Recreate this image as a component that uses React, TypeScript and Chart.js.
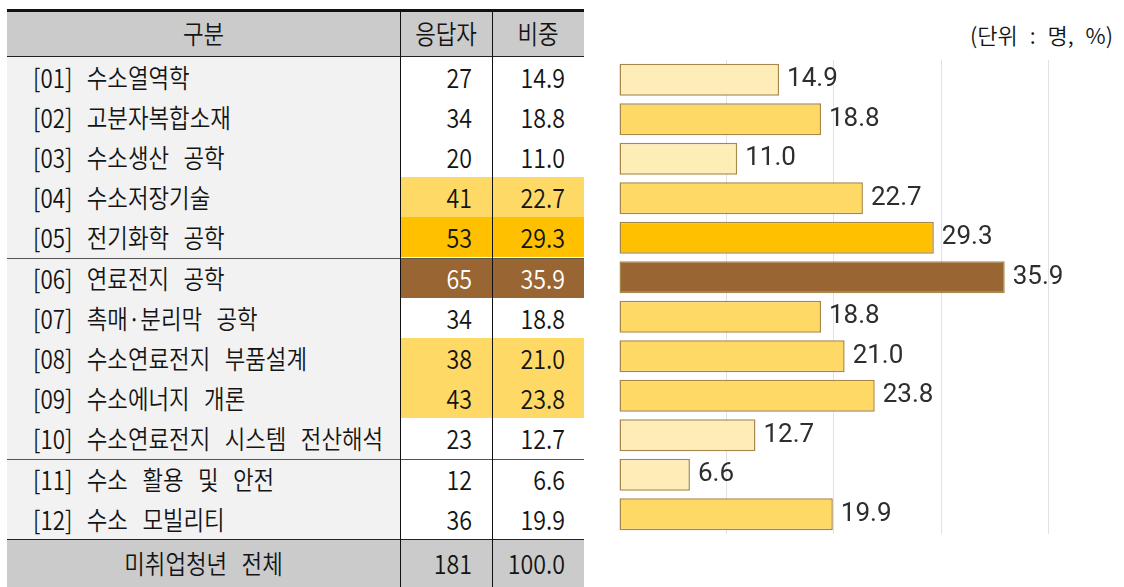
import React, { useEffect, useRef } from "react";
import { Chart, registerables } from "chart.js";

Chart.register(...registerables);

const headers = ["구분", "응답자", "비중"];
const categories = [
  "[01] 수소열역학",
  "[02] 고분자복합소재",
  "[03] 수소생산 공학",
  "[04] 수소저장기술",
  "[05] 전기화학 공학",
  "[06] 연료전지 공학",
  "[07] 촉매·분리막 공학",
  "[08] 수소연료전지 부품설계",
  "[09] 수소에너지 개론",
  "[10] 수소연료전지 시스템 전산해석",
  "[11] 수소 활용 및 안전",
  "[12] 수소 모빌리티",
];
const respondents = [27, 34, 20, 41, 53, 65, 34, 38, 43, 23, 12, 36];
const shares = [14.9, 18.8, 11.0, 22.7, 29.3, 35.9, 18.8, 21.0, 23.8, 12.7, 6.6, 19.9];
const totalLabel = "미취업청년 전체";
const totalCount = 181;
const totalShare = 100.0;
const unitLabel = "(단위 : 명, %)";
const gridTicks = [10, 20, 30, 40];
const groupBreaks = [4, 9]; // rows after which a separator line is drawn

const C_LIGHT = "#FFEDB8";
const C_MED = "#FFD966";
const C_STRONG = "#FFC000";
const C_BROWN = "#996633";

function barColor(v: number) {
  if (v >= 35) return C_BROWN;
  if (v >= 25) return C_STRONG;
  if (v >= 18) return C_MED;
  return C_LIGHT;
}

const ranked = [...shares].sort((a, b) => b - a);
function cellColor(v: number): string | null {
  const r = ranked.indexOf(v);
  if (r === 0) return C_BROWN;
  if (r === 1) return C_STRONG;
  if (r < 5) return C_MED;
  return null;
}

const FONT = '"Noto Sans CJK KR", "Noto Sans", sans-serif';
const ROW_H = 40.2;
const ROW0 = 56.5;
const X0 = 7;
const X1 = 400;
const X2 = 492;
const X3 = 584;

function Txt(props: {
  x: number;
  y: number;
  w: number;
  align: "left" | "right" | "center";
  color?: string;
  size?: number;
  spacing?: number;
  children: React.ReactNode;
}) {
  const { x, y, w, align, color = "#141414", size = 26, spacing = 6, children } = props;
  const origin = align === "left" ? "left center" : align === "right" ? "right center" : "center center";
  return (
    <div
      style={{
        position: "absolute",
        left: x,
        top: y,
        width: w,
        height: ROW_H,
        lineHeight: ROW_H + "px",
        textAlign: align,
        whiteSpace: "nowrap",
        fontFamily: FONT,
        fontWeight: 350,
        fontSize: size,
        color,
        wordSpacing: spacing,
        transform: "scaleX(0.86)",
        transformOrigin: origin,
      }}
    >
      {children}
    </div>
  );
}

const valueLabelPlugin = {
  id: "valueLabels",
  afterDatasetsDraw(chart: any) {
    const ctx = chart.ctx;
    const meta = chart.getDatasetMeta(0);
    ctx.save();
    ctx.font = '400 26px Roboto, "Noto Sans", sans-serif';
    ctx.fillStyle = "#2E2E2E";
    ctx.textBaseline = "middle";
    ctx.textAlign = "left";
    meta.data.forEach((bar: any, i: number) => {
      ctx.fillText(shares[i].toFixed(1), bar.x + 8, bar.y);
    });
    ctx.restore();
  },
};

function BarChart() {
  const ref = useRef<HTMLCanvasElement>(null);
  useEffect(() => {
    if (!ref.current) return;
    const chart = new Chart(ref.current, {
      type: "bar",
      data: {
        labels: categories,
        datasets: [
          {
            data: shares,
            backgroundColor: shares.map(barColor),
            borderColor: "#A8874C",
            borderWidth: 1.5,
            borderSkipped: false,
            barPercentage: 0.81,
            categoryPercentage: 1,
          },
        ],
      },
      options: {
        indexAxis: "y",
        responsive: false,
        animation: false,
        layout: { padding: { left: 19, right: 0, top: 20, bottom: 26 } },
        plugins: { legend: { display: false }, tooltip: { enabled: false } },
        scales: {
          x: {
            min: 0,
            max: 47,
            ticks: { display: false, stepSize: 10 },
            grid: {
              drawTicks: false,
              color: (c: any) => (gridTicks.includes(c.tick?.value) ? "#E2E2E2" : "rgba(0,0,0,0)"),
              lineWidth: 1,
            },
            border: { display: false },
          },
          y: { display: false },
        },
      },
      plugins: [valueLabelPlugin],
    } as any);
    return () => chart.destroy();
  }, []);
  return <canvas ref={ref} width={524} height={520} style={{ position: "absolute", left: 600, top: 40 }} />;
}

export default function App() {
  const rowsBottom = ROW0 + categories.length * ROW_H;
  return (
    <div
      style={{
        position: "fixed",
        left: 0,
        top: 0,
        width: 1124,
        height: 587,
        background: "#fff",
        overflow: "hidden",
      }}
    >
      {/* header */}
      <div style={{ position: "absolute", left: X0, top: 9, width: X3 - X0, height: 3, background: "#111" }} />
      <div style={{ position: "absolute", left: X0, top: 12, width: X3 - X0, height: 44, background: "#CBCBCB" }} />
      <div style={{ position: "absolute", left: X0, top: 55.5, width: X3 - X0, height: 1, background: "#222" }} />
      {/* first column background */}
      <div
        style={{ position: "absolute", left: X0, top: ROW0, width: X1 - X0, height: rowsBottom - ROW0, background: "#F2F2F2" }}
      />
      {/* highlighted cells */}
      {shares.map((v, i) => {
        const c = cellColor(v);
        if (!c) return null;
        return (
          <div
            key={"hl" + i}
            style={{ position: "absolute", left: X1, top: ROW0 + i * ROW_H, width: X3 - X1, height: ROW_H, background: c }}
          />
        );
      })}
      {/* group separators */}
      {groupBreaks.map((r) => (
        <div
          key={"sep" + r}
          style={{ position: "absolute", left: X0, top: ROW0 + (r + 1) * ROW_H, width: X3 - X0, height: 1, background: "#555" }}
        />
      ))}
      {/* total row */}
      <div style={{ position: "absolute", left: X0, top: rowsBottom + 1, width: X3 - X0, height: 60, background: "#CBCBCB" }} />
      <div style={{ position: "absolute", left: X0, top: rowsBottom + 0.5, width: X3 - X0, height: 1, background: "#222" }} />
      {/* vertical lines */}
      <div style={{ position: "absolute", left: X1, top: 12, width: 1, height: 600, background: "#111" }} />
      <div style={{ position: "absolute", left: X2, top: 12, width: 1, height: 600, background: "#111" }} />

      {/* header texts */}
      <Txt x={X0} y={13} w={X1 - X0} align="center">{headers[0]}</Txt>
      <Txt x={X1} y={13} w={X2 - X1} align="center">{headers[1]}</Txt>
      <Txt x={X2} y={13} w={X3 - X2} align="center">{headers[2]}</Txt>

      {/* body texts */}
      {categories.map((cat, i) => {
        const top = ROW0 + i * ROW_H;
        const c = cellColor(shares[i]);
        const txtColor = c === C_BROWN ? "#fff" : "#141414";
        return (
          <React.Fragment key={"r" + i}>
            <Txt x={33} y={top} w={400} align="left" spacing={11}>{cat}</Txt>
            <Txt x={X1} y={top} w={472 - X1} align="right" color={txtColor} size={27}>
              {respondents[i]}
            </Txt>
            <Txt x={X2} y={top} w={565 - X2} align="right" color={txtColor} size={27}>
              {shares[i].toFixed(1)}
            </Txt>
          </React.Fragment>
        );
      })}

      {/* total texts */}
      <Txt x={X0} y={rowsBottom + 4} w={X1 - X0} align="center" spacing={11}>{totalLabel}</Txt>
      <Txt x={X1} y={rowsBottom + 4} w={472 - X1} align="right" size={27}>{totalCount}</Txt>
      <Txt x={X2} y={rowsBottom + 4} w={565 - X2} align="right" size={27}>{totalShare.toFixed(1)}</Txt>

      {/* unit label */}
      <div
        style={{
          position: "absolute",
          left: 880,
          top: 14,
          width: 233,
          textAlign: "right",
          fontFamily: FONT,
          fontWeight: 350,
          fontSize: 22,
          color: "#141414",
          whiteSpace: "nowrap",
          wordSpacing: 7,
          lineHeight: "40px",
        }}
      >
        {unitLabel}
      </div>

      <BarChart />
    </div>
  );
}
